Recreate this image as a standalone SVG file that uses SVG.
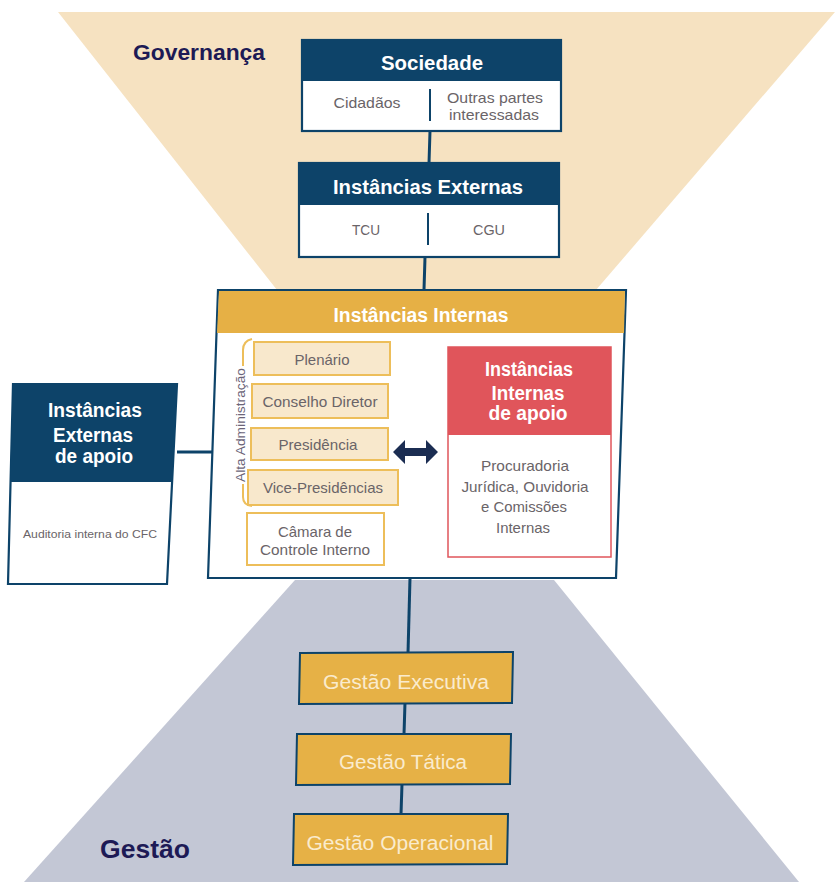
<svg xmlns="http://www.w3.org/2000/svg" width="835" height="882" viewBox="0 0 835 882">
<defs>
<style>
.navy{fill:#0D4369}
.wb{fill:#ffffff;stroke:#0D4369;stroke-width:2.2}
.ln{stroke:#0D4369;stroke-width:3;fill:none}
.hd{font-family:"Liberation Sans",Arial,sans-serif;font-weight:bold;fill:#ffffff;text-anchor:middle}
.tx{font-family:"Liberation Sans",Arial,sans-serif;fill:#6A6468;text-anchor:middle}
.inb{fill:#F8E8CC;stroke:#EDBE5A;stroke-width:2}
.gold{fill:#E6B146;stroke:#0D4369;stroke-width:2}
.gt{font-family:"Liberation Sans",Arial,sans-serif;fill:#FAEBCD;text-anchor:middle;font-size:20px}
.lab{font-family:"Liberation Sans",Arial,sans-serif;font-weight:bold;fill:#1D1A55}
</style>
</defs>
<rect width="835" height="882" fill="#ffffff"/>
<polygon points="58,12 835,12 596,290 277,290" fill="#F6E2C1"/>
<polygon points="295,580 554,580 799,882 24,882" fill="#C3C7D5"/>
<text class="lab" x="133" y="60" font-size="22" textLength="132" lengthAdjust="spacingAndGlyphs">Governança</text>
<text class="lab" x="100" y="858" font-size="26" textLength="90" lengthAdjust="spacingAndGlyphs">Gestão</text>
<g id="connectors">
<line class="ln" x1="430" y1="131" x2="429" y2="163"/>
<line class="ln" x1="425" y1="257" x2="424" y2="290"/>
<line class="ln" x1="177" y1="452" x2="213" y2="452"/>
<line class="ln" x1="410" y1="578" x2="408" y2="653"/>
<line class="ln" x1="405" y1="703" x2="404" y2="734"/>
<line class="ln" x1="402" y1="784" x2="401" y2="814"/>
</g>
<g id="sociedade">
<rect class="wb" x="302" y="40" width="259" height="91"/>
<rect class="navy" x="302" y="40" width="259" height="41"/>
<text class="hd" x="432" y="70" font-size="20" textLength="102" lengthAdjust="spacingAndGlyphs">Sociedade</text>
<line x1="430" y1="89" x2="430" y2="121" stroke="#0D4369" stroke-width="2"/>
<text class="tx" x="367" y="108" font-size="15" textLength="67" lengthAdjust="spacingAndGlyphs">Cidadãos</text>
<text class="tx" x="495" y="103" font-size="15" textLength="96" lengthAdjust="spacingAndGlyphs">Outras partes</text>
<text class="tx" x="494" y="120" font-size="15" textLength="90" lengthAdjust="spacingAndGlyphs">interessadas</text>
</g>
<g id="externas">
<rect class="wb" x="299" y="163" width="260" height="94"/>
<rect class="navy" x="299" y="163" width="260" height="42"/>
<text class="hd" x="428" y="194" font-size="20" textLength="190" lengthAdjust="spacingAndGlyphs">Instâncias Externas</text>
<line x1="428" y1="213" x2="428" y2="245" stroke="#0D4369" stroke-width="2"/>
<text class="tx" x="366" y="235" font-size="15" textLength="28" lengthAdjust="spacingAndGlyphs">TCU</text>
<text class="tx" x="489" y="235" font-size="15" textLength="32" lengthAdjust="spacingAndGlyphs">CGU</text>
</g>
<g id="internas">
<polygon points="218,290 626,290 616,578 208,578" fill="#ffffff" stroke="#0D4369" stroke-width="2.2"/>
<polygon points="219,291 625,291 624,333 217,333" fill="#E6B045"/>
<text class="hd" x="421" y="322" font-size="20" textLength="175" lengthAdjust="spacingAndGlyphs" style="font-weight:600">Instâncias Internas</text>
</g>
<g id="alta-admin">
<path d="M252,339 Q243,341 243,350 L243,366 M243,484 L243,497 Q243,505 252,506" fill="none" stroke="#EDBE5A" stroke-width="2"/>
<text class="tx" transform="translate(245,425) rotate(-90)" font-size="12" textLength="114" lengthAdjust="spacingAndGlyphs" style="fill:#6B6478">Alta Administração</text>
</g>
<g id="plenario">
<rect class="inb" x="254" y="342" width="136" height="33"/>
<text class="tx" x="322" y="365" font-size="15" textLength="55" lengthAdjust="spacingAndGlyphs">Plenário</text>
</g>
<g id="conselho">
<rect class="inb" x="252" y="384" width="136" height="34"/>
<text class="tx" x="320" y="407" font-size="15" textLength="115" lengthAdjust="spacingAndGlyphs">Conselho Diretor</text>
</g>
<g id="presidencia">
<rect class="inb" x="251" y="428" width="137" height="32"/>
<text class="tx" x="318" y="450" font-size="15" textLength="79" lengthAdjust="spacingAndGlyphs">Presidência</text>
</g>
<g id="vice">
<rect class="inb" x="248" y="470" width="150" height="35"/>
<text class="tx" x="323" y="493" font-size="15" textLength="120" lengthAdjust="spacingAndGlyphs">Vice-Presidências</text>
</g>
<g id="camara">
<rect x="247" y="513" width="137" height="52" fill="#ffffff" stroke="#EDBE5A" stroke-width="2"/>
<text class="tx" x="315" y="537" font-size="15" textLength="74" lengthAdjust="spacingAndGlyphs">Câmara de</text>
<text class="tx" x="315" y="555" font-size="15" textLength="110" lengthAdjust="spacingAndGlyphs">Controle Interno</text>
</g>
<g id="arrow">
<polygon points="393,452 405,440 405,448 426,448 426,440 438,452 426,464 426,456 405,456 405,464" fill="#1B2D52"/>
</g>
<g id="internas-apoio">
<rect x="448" y="347" width="163" height="210" fill="#ffffff" stroke="#E0555B" stroke-width="1.5"/>
<rect x="448" y="347" width="163" height="88" fill="#E0555B"/>
<text class="hd" x="529" y="376" font-size="20" textLength="88" lengthAdjust="spacingAndGlyphs" style="font-weight:600">Instâncias</text>
<text class="hd" x="528" y="400" font-size="20" textLength="73" lengthAdjust="spacingAndGlyphs" style="font-weight:600">Internas</text>
<text class="hd" x="528" y="420" font-size="20" textLength="79" lengthAdjust="spacingAndGlyphs" style="font-weight:600">de apoio</text>
<text class="tx" x="525" y="471" font-size="15" textLength="88" lengthAdjust="spacingAndGlyphs">Procuradoria</text>
<text class="tx" x="525" y="492" font-size="15" textLength="127" lengthAdjust="spacingAndGlyphs">Jurídica, Ouvidoria</text>
<text class="tx" x="524" y="512" font-size="15" textLength="86" lengthAdjust="spacingAndGlyphs">e Comissões</text>
<text class="tx" x="523" y="533" font-size="15" textLength="54" lengthAdjust="spacingAndGlyphs">Internas</text>
</g>
<g id="externas-apoio">
<polygon points="13,384 177,384 167,584 8,584" fill="#ffffff" stroke="#0D4369" stroke-width="2.2"/>
<polygon points="13,384 177,384 172,482 10,482" fill="#0D4369"/>
<text class="hd" x="95" y="417" font-size="20" textLength="94" lengthAdjust="spacingAndGlyphs" style="font-weight:600">Instâncias</text>
<text class="hd" x="93" y="442" font-size="20" textLength="80" lengthAdjust="spacingAndGlyphs" style="font-weight:600">Externas</text>
<text class="hd" x="94" y="463" font-size="20" textLength="78" lengthAdjust="spacingAndGlyphs" style="font-weight:600">de apoio</text>
<text class="tx" x="90" y="538" font-size="11" textLength="134" lengthAdjust="spacingAndGlyphs">Auditoria interna do CFC</text>
</g>
<g id="gestao-executiva">
<polygon class="gold" points="300,653 513,652 512,703 299,704"/>
<text class="gt" x="406" y="689" textLength="166" lengthAdjust="spacingAndGlyphs">Gestão Executiva</text>
</g>
<g id="gestao-tatica">
<polygon class="gold" points="297,734 511,734 510,784 296,785"/>
<text class="gt" x="403" y="769" textLength="128" lengthAdjust="spacingAndGlyphs">Gestão Tática</text>
</g>
<g id="gestao-operacional">
<polygon class="gold" points="294,814 508,814 507,864 293,865"/>
<text class="gt" x="400" y="850" textLength="187" lengthAdjust="spacingAndGlyphs">Gestão Operacional</text>
</g>
</svg>
